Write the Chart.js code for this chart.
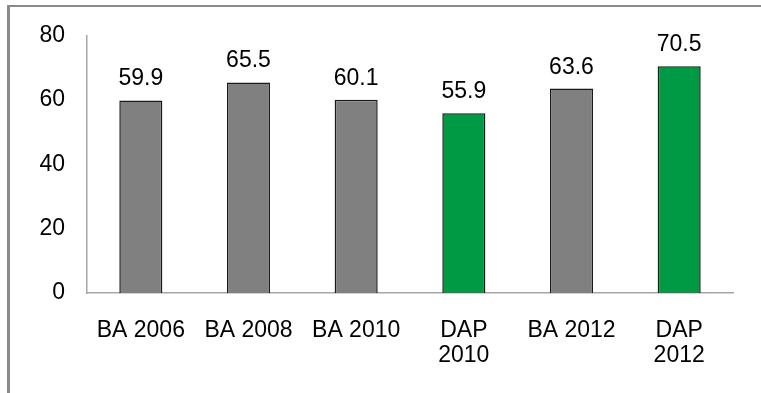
<!DOCTYPE html>
<html>
<head>
<meta charset="utf-8">
<script src="https://cdn.jsdelivr.net/npm/chart.js@4"></script>
<style>
  html, body { margin: 0; padding: 0; background: #fff; overflow: hidden; }
  #wrap { position: relative; width: 761px; height: 393px; }
  #frame {
    position: absolute; left: 7px; top: 5px; width: 820px; height: 460px;
    border-left: 3px solid #8a8a8a; border-top: 2px solid #8a8a8a;
  }
  canvas { position: absolute; left: 0; top: 0; }
</style>
</head>
<body>
<div id="wrap">
  <div id="frame"></div>
  <canvas id="chart" width="761" height="393"></canvas>
</div>
<script>
const categories = ["BA 2006", "BA 2008", "BA 2010", ["DAP", "2010"], "BA 2012", ["DAP", "2012"]];
const values = [59.9, 65.5, 60.1, 55.9, 63.6, 70.5];
const yTicks = [0, 20, 40, 60, 80];

const GREY = "#808080";
const GREEN = "#009944";
const FONT = "'Liberation Sans', Arial, sans-serif";

// DAP bars are green, BA bars grey
const barColors = categories.map(c => (Array.isArray(c) ? c[0] : c).startsWith("DAP") ? GREEN : GREY);

/* value labels above bars */
const valueLabels = {
    id: "valueLabels",
    afterDatasetsDraw(chart) {
        const ctx = chart.ctx;
        const meta = chart.getDatasetMeta(0);
        ctx.save();
        ctx.font = "23px " + FONT;
        ctx.fillStyle = "#000";
        ctx.textAlign = "center";
        ctx.textBaseline = "alphabetic";
        meta.data.forEach((bar, i) => {
            ctx.fillText(values[i].toFixed(1), bar.x, bar.y - 15);
        });
        ctx.restore();
    }
};

new Chart(document.getElementById("chart"), {
    type: "bar",
    data: {
        labels: categories,
        datasets: [{
            data: values,
            backgroundColor: barColors,
            borderColor: "#1a1a1a",
            borderWidth: 1.5,
            barPercentage: 0.4,
            categoryPercentage: 1
        }]
    },
    options: {
        responsive: false,
        animation: false,
        layout: { padding: { top: 33, right: 28, bottom: 0, left: 0 } },
        plugins: {
            legend: { display: false },
            tooltip: { enabled: false }
        },
        scales: {
            x: {
                grid: { display: false, drawTicks: false },
                border: { color: "#a6a6a6", width: 1.5 },
                ticks: {
                    color: "#000",
                    font: { family: FONT, size: 23, lineHeight: 1.1 },
                    padding: 25,
                    maxRotation: 0,
                    autoSkip: false
                },
                afterFit(scale) { scale.height = 100; }
            },
            y: {
                min: 0,
                max: 80,
                afterBuildTicks(scale) { scale.ticks = yTicks.map(v => ({ value: v })); },
                grid: { display: false, drawTicks: false },
                border: { color: "#a6a6a6", width: 1.5 },
                ticks: {
                    color: "#000",
                    font: { family: FONT, size: 23 },
                    padding: 22
                },
                afterFit(scale) { scale.width = 87; }
            }
        }
    },
    plugins: [valueLabels]
});
</script>
</body>
</html>
